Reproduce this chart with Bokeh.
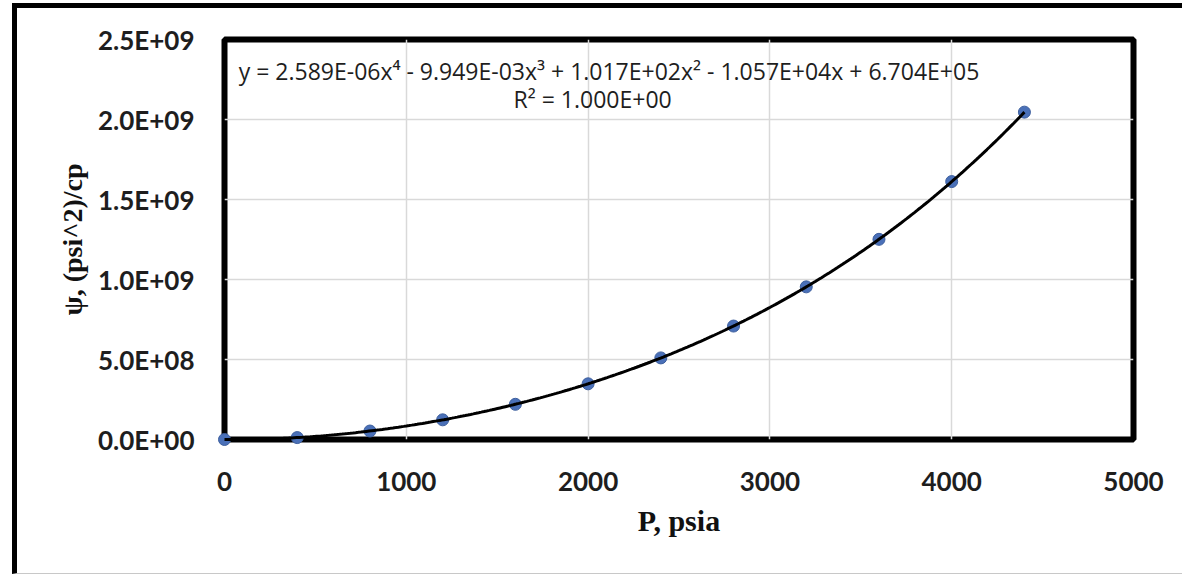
import numpy as np
from bokeh.plotting import figure
from bokeh.models import Range1d, FixedTicker, Label
from bokeh.embed import file_html
from bokeh.resources import INLINE

# ---- data ----
p_psia = [0, 400, 800, 1200, 1600, 2000, 2400, 2800, 3200, 3600, 4000, 4400]
psi_vals = [0.0, 1.2e7, 5.3e7, 1.23e8, 2.2e8, 3.48e8, 5.1e8, 7.09e8, 9.54e8, 1.251e9, 1.612e9, 2.046e9]

# trendline coefficients shown on the chart (x^4 ... x^0)
trend_coefs = [2.589e-06, -9.949e-03, 1.017e02, -1.057e04, 6.704e05]
trend_text = "y = 2.589E-06x\u2074 - 9.949E-03x\u00b3 + 1.017E+02x\u00b2 - 1.057E+04x + 6.704E+05"
r2_text = "R\u00b2 = 1.000E+00"

x_ticks = [0, 1000, 2000, 3000, 4000, 5000]
x_tick_labels = ["0", "1000", "2000", "3000", "4000", "5000"]
y_ticks = [0, 5e8, 1e9, 1.5e9, 2e9, 2.5e9]
y_tick_labels = ["0.0E+00", "5.0E+08", "1.0E+09", "1.5E+09", "2.0E+09", "2.5E+09"]

x_label = "P, psia"
y_label = "\u03c8, (psi^2)/cp"

# ---- figure ----
p = figure(
    frame_width=909, frame_height=400,
    min_border_left=207, min_border_top=31, min_border_right=49, min_border_bottom=134,
    x_range=Range1d(0, 5000), y_range=Range1d(0, 2.5e9),
    output_backend="svg", toolbar_location=None,
    background_fill_color="white", border_fill_color="white",
)
p.styles = {
    "border-left": "5px solid black",
    "border-top": "5px solid black",
    "border-bottom": "1px solid #c8c8c8",
    "margin-left": "12px",
    "margin-top": "3px",
}

p.outline_line_color = "black"
p.outline_line_width = 6

for ax in (p.xaxis[0], p.yaxis[0]):
    ax.axis_line_color = None
    ax.major_tick_line_color = None
    ax.minor_tick_line_color = None
    ax.major_tick_out = 0
    ax.major_tick_in = 0
    ax.minor_tick_out = 0
    ax.minor_tick_in = 0
    ax.major_label_text_font = "Lato"
    ax.major_label_text_font_style = "bold"
    ax.major_label_text_font_size = "26px"
    ax.major_label_text_color = "#1e1e1e"
    ax.axis_label_text_font = "Liberation Serif"
    ax.axis_label_text_font_style = "bold"
    ax.axis_label_text_color = "#111111"

p.xaxis[0].ticker = FixedTicker(ticks=x_ticks)
p.yaxis[0].ticker = FixedTicker(ticks=y_ticks)
p.xaxis[0].major_label_overrides = dict(zip(x_ticks, x_tick_labels))
p.yaxis[0].major_label_overrides = dict(zip(y_ticks, y_tick_labels))
p.xaxis[0].major_label_standoff = 32
p.yaxis[0].major_label_standoff = 30
p.xaxis[0].axis_label = x_label
p.yaxis[0].axis_label = y_label
p.xaxis[0].axis_label_text_font_size = "30px"
p.yaxis[0].axis_label_text_font_size = "28px"
p.xaxis[0].axis_label_standoff = 10
p.yaxis[0].axis_label_standoff = 7

p.xgrid.ticker = FixedTicker(ticks=x_ticks)
p.ygrid.ticker = FixedTicker(ticks=y_ticks)
p.grid.grid_line_color = "#d9d9d9"
p.grid.grid_line_width = 1.5

# data points
p.scatter(p_psia, psi_vals, size=12, fill_color="#4a70b8", line_color="#3d5f9e", line_width=1,
          level="overlay")

# polynomial trendline
xs = np.linspace(p_psia[0], p_psia[-1], 300)
ys = np.polyval(trend_coefs, xs)
p.line(xs, ys, line_color="black", line_width=3, level="overlay")

p.add_layout(Label(x=2115, y=2.306e9, text=trend_text, text_align="center", text_baseline="middle",
                   text_font="Open Sans", text_font_size="23px", text_color="#1e1e1e"))
p.add_layout(Label(x=2025, y=2.13e9, text=r2_text, text_align="center", text_baseline="middle",
                   text_font="Open Sans", text_font_size="23px", text_color="#1e1e1e"))

open("out.html", "w").write(file_html(p, INLINE))
